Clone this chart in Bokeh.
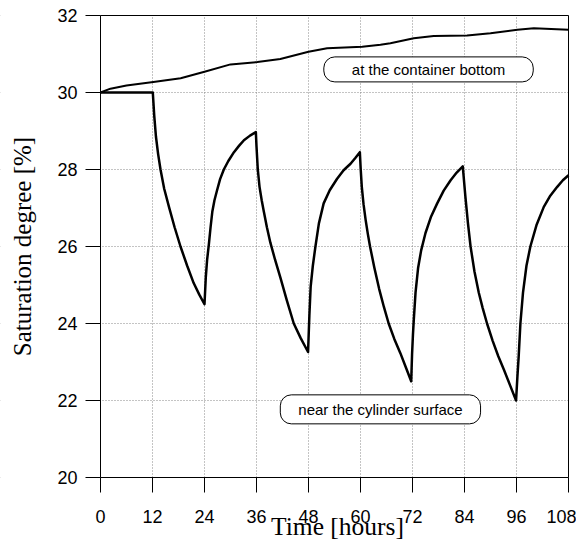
from bokeh.plotting import figure
from bokeh.models import Range1d, FixedTicker, Label, LinearAxis, Grid, BoxAnnotation
from bokeh.embed import file_html
from bokeh.resources import INLINE

hour_ticks = [0, 12, 24, 36, 48, 60, 72, 84, 96, 108]
sat_ticks = [20, 22, 24, 26, 28, 30, 32]

# "at the container bottom"
bottom_t = [0, 2.3, 6, 12.2, 18.5, 24, 30, 36.2, 41.5, 48, 52.3, 60.4, 64.6, 66.9,
            72.3, 76.9, 84.6, 90, 96.2, 100, 108]
bottom_s = [30.0, 30.1, 30.18, 30.27, 30.37, 30.54, 30.73, 30.79, 30.87, 31.06, 31.15,
            31.19, 31.24, 31.28, 31.41, 31.47, 31.48, 31.54, 31.63, 31.67, 31.63]

# "near the cylinder surface"
surface_t = [0, 12.07, 12.4, 12.8, 13.3, 13.85, 14.7, 15.8, 17.1, 18.46, 20.0, 21.5, 22.8, 24.0,
             24.3, 24.6, 25.0, 25.4, 25.8, 26.3, 26.9, 27.6, 28.46, 29.5, 30.8, 32.0, 33.1, 34.5, 35.85,
             36.0, 36.15, 36.3, 36.7, 37.2, 37.7, 38.4, 39.2, 40.3, 41.5, 43.0, 44.6, 46.2, 47.9,
             48.2, 48.5, 49.0, 49.6, 50.4, 51.5, 52.9, 54.6, 56.1, 57.7, 58.8, 59.85,
             60.05, 60.3, 60.7, 61.2, 61.7, 62.2, 63.2, 64.3, 65.4, 66.5, 67.8, 69.2, 70.5, 71.7,
             71.9, 72.1, 72.3, 72.7, 73.3, 74.0, 75.0, 76.3, 77.7, 79.2, 80.8, 82.2, 83.6,
             84.2, 84.8, 85.4, 86.3, 87.3, 88.2, 89.2, 90.5, 91.8, 93.1, 94.5, 95.9,
             96.2, 96.5, 96.9, 97.5, 98.3, 99.2, 100.6, 102.3, 103.8, 105.4, 106.7, 108]
surface_s = [30.0, 30.0, 29.4, 28.85, 28.4, 28.0, 27.5, 27.03, 26.5, 26.0, 25.5, 25.05, 24.75, 24.5,
             25.2, 25.65, 26.05, 26.5, 26.9, 27.2, 27.46, 27.75, 28.0, 28.22, 28.45, 28.62, 28.76, 28.88, 28.97,
             28.6, 28.3, 28.0, 27.55, 27.2, 26.9, 26.5, 26.1, 25.65, 25.2, 24.6, 24.0, 23.62, 23.26,
             24.2, 24.96, 25.5, 26.0, 26.6, 27.12, 27.46, 27.76, 27.98, 28.15, 28.3, 28.45,
             28.0, 27.55, 27.1, 26.68, 26.32, 26.0, 25.45, 24.9, 24.43, 24.0, 23.6, 23.23, 22.85, 22.5,
             23.2, 23.7, 24.1, 24.8, 25.45, 25.9, 26.35, 26.78, 27.12, 27.45, 27.72, 27.92, 28.08,
             27.3, 26.6, 26.0, 25.35, 24.8, 24.4, 24.0, 23.55, 23.15, 22.8, 22.4, 22.0,
             22.6, 23.14, 24.0, 24.8, 25.5, 26.0, 26.55, 27.03, 27.32, 27.55, 27.72, 27.85]

# layout geometry (pixels); the frame covers the whole canvas, axes are pinned inside it
W, H = 576, 540
PX_LEFT, PX_RIGHT = 100, 568     # pixel columns of x = 0 and x = 108
PX_TOP, PX_BOTTOM = 15, 477      # pixel rows of y = 32 and y = 20
x0, x1 = hour_ticks[0], hour_ticks[-1]
y0, y1 = sat_ticks[0], sat_ticks[-1]
ux = (x1 - x0) / (PX_RIGHT - PX_LEFT)
uy = (y1 - y0) / (PX_BOTTOM - PX_TOP)
x_range = Range1d(x0 - PX_LEFT * ux, x1 + (W - PX_RIGHT) * ux)
y_range = Range1d(y0 - (H - PX_BOTTOM) * uy, y1 + PX_TOP * uy)

p = figure(width=W, height=H, output_backend="svg", toolbar_location=None,
           x_range=x_range, y_range=y_range,
           x_axis_location=None, y_axis_location=None,
           min_border_left=0, min_border_right=0, min_border_top=0, min_border_bottom=0)
p.outline_line_color = None
p.background_fill_color = "white"
p.border_fill_color = "white"
p.center = [r for r in p.center if not isinstance(r, Grid)]

def style_axis(ax):
    ax.major_tick_out = 15
    ax.major_tick_in = 0
    ax.minor_tick_out = 0
    ax.minor_tick_in = 0
    ax.axis_line_color = "black"
    ax.axis_line_width = 1
    ax.major_tick_line_color = "black"
    ax.major_label_text_font = "Liberation Sans"
    ax.major_label_text_font_size = "18px"
    ax.major_label_text_color = "black"

# dotted grid, masked outside the plotting box
p.add_layout(Grid(dimension=0, ticker=FixedTicker(ticks=hour_ticks), grid_line_color="#888888",
                  grid_line_dash="1 2", grid_line_width=1))
p.add_layout(Grid(dimension=1, ticker=FixedTicker(ticks=sat_ticks), grid_line_color="#888888",
                  grid_line_dash="1 2", grid_line_width=1))
for kw in (dict(top=y0), dict(bottom=y1), dict(right=x0), dict(left=x1)):
    p.add_layout(BoxAnnotation(fill_color="white", fill_alpha=1.0, line_color=None,
                               level="underlay", **kw))

# left axis at x = 0
yax = LinearAxis(fixed_location=x0, ticker=FixedTicker(ticks=sat_ticks), bounds=(y0, y1))
style_axis(yax)
yax.major_label_standoff = 8
yax.axis_label = "Saturation degree [%]"
yax.axis_label_text_font = "Liberation Serif"
yax.axis_label_text_font_style = "normal"
yax.axis_label_text_font_size = "25px"
yax.axis_label_text_color = "black"
yax.axis_label_standoff = 18
p.add_layout(yax, "left")

# bottom axis at y = 20
xax = LinearAxis(fixed_location=y0, ticker=FixedTicker(ticks=hour_ticks), bounds=(x0, x1))
style_axis(xax)
xax.major_label_standoff = 17
p.add_layout(xax, "below")

# frame top and right edges
top_ax = LinearAxis(fixed_location=y1, bounds=(x0, x1), ticker=FixedTicker(ticks=[]),
                    major_tick_out=0, major_tick_in=0, minor_tick_out=0, minor_tick_in=0,
                    major_label_text_font_size="0px", axis_line_color="black")
p.add_layout(top_ax, "above")
right_ax = LinearAxis(fixed_location=x1, bounds=(y0, y1), ticker=FixedTicker(ticks=[]),
                      major_tick_out=0, major_tick_in=0, minor_tick_out=0, minor_tick_in=0,
                      major_label_text_font_size="0px", axis_line_color="black")
p.add_layout(right_ax, "right")

p.line(bottom_t, bottom_s, line_color="black", line_width=2, line_join="round")
p.line(surface_t, surface_s, line_color="black", line_width=2.5, line_join="round")

lab1 = Label(x=75.7, y=30.6, text="at the container bottom", text_align="center",
             text_baseline="middle", text_font="Liberation Sans", text_font_size="15px",
             text_color="black", background_fill_color="white", border_line_color="black",
             border_line_width=1, border_radius=11,
             padding=dict(left=28, right=28, top=4, bottom=4))
lab2 = Label(x=64.6, y=21.77, text="near the cylinder surface", text_align="center",
             text_baseline="middle", text_font="Liberation Sans", text_font_size="15px",
             text_color="black", background_fill_color="white", border_line_color="black",
             border_line_width=1, border_radius=11,
             padding=dict(left=18, right=18, top=6, bottom=6))
xlab = Label(x=54.7, y=y0 - 49 * uy, text="Time [hours]", text_align="center",
             text_baseline="middle", text_font="Liberation Serif", text_font_size="25.5px",
             text_color="black")
p.add_layout(lab1)
p.add_layout(lab2)
p.add_layout(xlab)

open("out.html", "w").write(file_html(p, INLINE))
